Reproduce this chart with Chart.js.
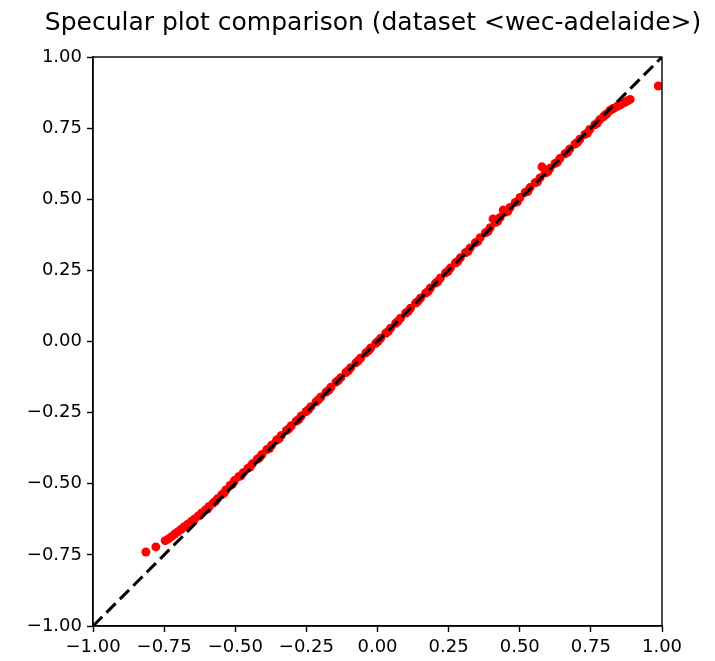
<!DOCTYPE html>
<html>
<head>
<meta charset="utf-8">
<script src="https://cdn.jsdelivr.net/npm/chart.js@4.4.1/dist/chart.umd.min.js"></script>
<style>
  html, body { margin: 0; padding: 0; background: #fff; }
  #wrap { width: 715px; height: 661px; }
</style>
</head>
<body>
<div id="wrap"><canvas id="specChart" width="715" height="661"></canvas></div>
<script>
const titleText = "Specular plot comparison (dataset <wec-adelaide>)";

const tickValues = [-1.0, -0.75, -0.5, -0.25, 0.0, 0.25, 0.5, 0.75, 1.0];

// reference specular values (x) vs. predicted values (y)
const refValues = [
  -0.814, -0.779, -0.746, -0.735, -0.724, -0.713, -0.702, -0.690, -0.679, -0.667,
  -0.655, -0.643, -0.630, -0.618, -0.605, -0.592, -0.578, -0.563, -0.548, -0.533,
  -0.518, -0.503, -0.488, -0.472, -0.456, -0.440, -0.423, -0.406, -0.389, -0.372,
  -0.355, -0.338, -0.320, -0.303, -0.286, -0.268, -0.251, -0.234, -0.216, -0.199,
  -0.181, -0.164, -0.146, -0.129, -0.111, -0.094, -0.076, -0.059, -0.041, -0.024,
  -0.006, 0.011, 0.029, 0.046, 0.064, 0.081, 0.099, 0.116, 0.134, 0.151,
  0.169, 0.186, 0.204, 0.221, 0.239, 0.256, 0.274, 0.291, 0.309, 0.326,
  0.344, 0.361, 0.379, 0.396, 0.406, 0.414, 0.431, 0.442, 0.449, 0.466,
  0.484, 0.501, 0.519, 0.536, 0.554, 0.571, 0.578, 0.589, 0.606, 0.624,
  0.641, 0.659, 0.676, 0.694, 0.711, 0.729, 0.746, 0.764, 0.781, 0.794,
  0.806, 0.817, 0.830, 0.843, 0.856, 0.868, 0.879, 0.888, 0.987,
  -0.649, -0.624, -0.598, -0.570, -0.540, -0.510, -0.480, -0.448, -0.415, -0.380,
  -0.346, -0.312, -0.277, -0.242, -0.208, -0.172, -0.138, -0.102, -0.068, -0.032,
  0.002, 0.038, 0.072, 0.108, 0.142, 0.178, 0.212, 0.248, 0.282, 0.318,
  0.352, 0.388, 0.422, 0.458, 0.492, 0.528, 0.562, 0.598, 0.632, 0.668,
  0.702, 0.738, 0.772, 0.800, 0.824, 0.850, 0.874
];
const predValues = [
  -0.740, -0.722, -0.700, -0.694, -0.686, -0.677, -0.669, -0.660, -0.651, -0.642,
  -0.633, -0.624, -0.613, -0.603, -0.592, -0.580, -0.568, -0.553, -0.539, -0.522,
  -0.506, -0.489, -0.475, -0.461, -0.446, -0.430, -0.414, -0.397, -0.380, -0.364,
  -0.347, -0.330, -0.313, -0.296, -0.280, -0.262, -0.246, -0.229, -0.212, -0.195,
  -0.178, -0.161, -0.143, -0.127, -0.109, -0.092, -0.075, -0.058, -0.040, -0.023,
  -0.006, 0.011, 0.029, 0.047, 0.064, 0.082, 0.100, 0.117, 0.135, 0.152,
  0.170, 0.188, 0.205, 0.223, 0.241, 0.258, 0.276, 0.294, 0.312, 0.329,
  0.347, 0.365, 0.382, 0.400, 0.431, 0.418, 0.436, 0.462, 0.454, 0.471,
  0.489, 0.506, 0.524, 0.541, 0.558, 0.575, 0.614, 0.592, 0.609, 0.626,
  0.643, 0.660, 0.677, 0.694, 0.711, 0.728, 0.745, 0.762, 0.779, 0.790,
  0.800, 0.812, 0.820, 0.827, 0.834, 0.840, 0.846, 0.851, 0.898,
  -0.632, -0.611, -0.589, -0.562, -0.533, -0.501, -0.472, -0.441, -0.409, -0.376,
  -0.341, -0.307, -0.274, -0.239, -0.205, -0.172, -0.137, -0.102, -0.068, -0.033,
  0.001, 0.036, 0.071, 0.106, 0.141, 0.176, 0.211, 0.247, 0.281, 0.317,
  0.351, 0.387, 0.422, 0.458, 0.491, 0.527, 0.561, 0.596, 0.630, 0.665,
  0.699, 0.733, 0.767, 0.796, 0.816, 0.830, 0.844
];

// identity line
const identityLine = [-1, 1];

function fmtTick(v) {
  return v.toFixed(2).replace("-", "\u2212");
}

// full box round the plot area (matplotlib spines) and title centred on it
const boxPlugin = {
  id: "box",
  afterDraw(chart) {
    const { ctx, chartArea: a } = chart;
    ctx.save();
    ctx.strokeStyle = "#000";
    ctx.lineWidth = 1.4;
    ctx.strokeRect(a.left, a.top, a.right - a.left, a.bottom - a.top);

    ctx.fillStyle = "#000";
    ctx.font = "25px 'DejaVu Sans'";
    ctx.textAlign = "center";
    ctx.textBaseline = "alphabetic";
    ctx.fillText(titleText, (a.left + a.right) / 2 - 4.5, 29.5);
    ctx.restore();
  },
};

const points = refValues.map((x, i) => ({ x: x, y: predValues[i] }));
const linePoints = identityLine.map((v) => ({ x: v, y: v }));

const axisCommon = {
  type: "linear",
  min: -1,
  max: 1,
  afterBuildTicks: (scale) => {
    scale.ticks = tickValues.map((v) => ({ value: v }));
  },
  grid: {
    drawOnChartArea: false,
    drawTicks: true,
    tickLength: 6,
    tickWidth: 1.4,
    tickColor: "#000",
  },
  border: { color: "#000", width: 1.4 },
  ticks: {
    color: "#000",
    padding: 5,
    font: { family: "DejaVu Sans", size: 18 },
    callback: (v) => fmtTick(v),
    maxRotation: 0,
    autoSkip: false,
  },
};

new Chart(document.getElementById("specChart").getContext("2d"), {
  type: "scatter",
  data: {
    datasets: [
      {
        data: linePoints,
        showLine: true,
        borderColor: "#000",
        borderWidth: 3,
        borderDash: [13, 6],
        pointRadius: 0,
        order: 0,
      },
      {
        data: points,
        backgroundColor: "#ff0000",
        borderWidth: 0,
        pointRadius: 4.5,
        order: 1,
      },
    ],
  },
  options: {
    responsive: false,
    animation: false,
    layout: { padding: { top: 57, right: 53, bottom: 0, left: 0 } },
    plugins: {
      legend: { display: false },
      tooltip: { enabled: false },
      title: { display: false },
    },
    scales: {
      x: Object.assign({}, axisCommon, {
        afterFit: (scale) => {
          scale.height = 35;
        },
      }),
      y: Object.assign({}, axisCommon, {
        afterFit: (scale) => {
          scale.width = 93;
        },
      }),
    },
  },
  plugins: [boxPlugin],
});
</script>
</body>
</html>
